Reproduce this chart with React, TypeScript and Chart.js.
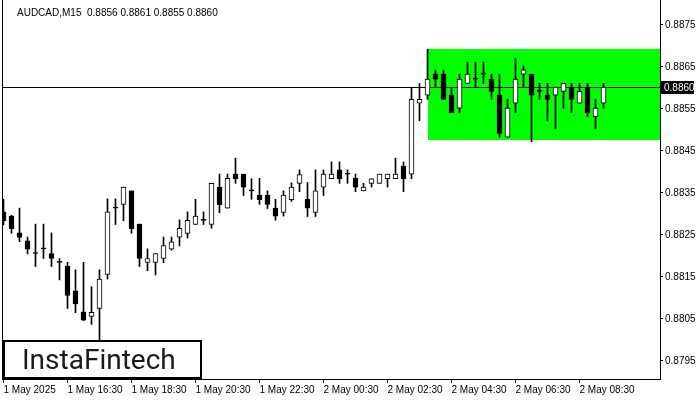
import React, { useEffect, useRef } from "react";
import { Chart, registerables } from "chart.js";

Chart.register(...registerables);

const symbolTitle = "AUDCAD,M15  0.8856 0.8861 0.8855 0.8860";

const timeLabels = [
  "1 May 2025",
  "1 May 16:30",
  "1 May 18:30",
  "1 May 20:30",
  "1 May 22:30",
  "2 May 00:30",
  "2 May 02:30",
  "2 May 04:30",
  "2 May 06:30",
  "2 May 08:30",
];
const timeLabelIndex = [0, 8, 16, 24, 32, 40, 48, 56, 64, 72];

const priceTicks = [0.8795, 0.8805, 0.8815, 0.8825, 0.8835, 0.8845, 0.8855, 0.8865, 0.8875];

const opens = [
  0.88305, 0.88295, 0.88255, 0.88236, 0.88206, 0.88217, 0.88206, 0.88185, 0.88176, 0.88117,
  0.88067, 0.88056, 0.88075, 0.88156, 0.88314, 0.88323, 0.88355, 0.88276, 0.88185, 0.88185,
  0.88194, 0.88216, 0.88245, 0.88254, 0.88275, 0.88285, 0.88275, 0.88364, 0.88314, 0.88395,
  0.88395, 0.88355, 0.88345, 0.88345, 0.88314, 0.88304, 0.88334, 0.88373, 0.88335, 0.88304,
  0.88364, 0.88384, 0.88405, 0.88395, 0.88385, 0.88355, 0.88373, 0.88373, 0.88384, 0.88384,
  0.88414, 0.88395, 0.88564, 0.88583, 0.88633, 0.88633, 0.88583, 0.88552, 0.88611, 0.88621,
  0.88633, 0.88621, 0.88583, 0.88483, 0.88564, 0.88633, 0.88633, 0.88592, 0.88583, 0.88583,
  0.88592, 0.88602, 0.88564, 0.88602, 0.88532, 0.88564,
];
const highs = [
  0.88335, 0.88297, 0.88314, 0.88245, 0.88276, 0.88276, 0.88255, 0.88194, 0.88185, 0.88167,
  0.88185, 0.88127, 0.88167, 0.88336, 0.88336, 0.88364, 0.88355, 0.88276, 0.88217, 0.88206,
  0.88245, 0.88245, 0.88286, 0.88305, 0.88335, 0.88305, 0.88373, 0.88395, 0.88395, 0.88433,
  0.88395, 0.88384, 0.88385, 0.88355, 0.88335, 0.88355, 0.88374, 0.88405, 0.88375, 0.88405,
  0.88405, 0.88424, 0.88424, 0.88405, 0.88395, 0.88373, 0.88384, 0.88395, 0.88395, 0.88433,
  0.88424, 0.88602, 0.88611, 0.88692, 0.88643, 0.88643, 0.88602, 0.88633, 0.88662, 0.88662,
  0.88662, 0.88633, 0.88633, 0.88573, 0.88671, 0.88652, 0.88633, 0.88611, 0.88611, 0.88602,
  0.88611, 0.88611, 0.88611, 0.88611, 0.88573, 0.88611,
];
const lows = [
  0.88274, 0.88254, 0.88234, 0.88205, 0.88175, 0.88194, 0.88175, 0.88143, 0.88075, 0.88065,
  0.88046, 0.88037, 0.88000, 0.88145, 0.88275, 0.88284, 0.88254, 0.88175, 0.88165, 0.88155,
  0.88184, 0.88214, 0.88224, 0.88243, 0.88275, 0.88275, 0.88266, 0.88303, 0.88314, 0.88373,
  0.88344, 0.88335, 0.88323, 0.88313, 0.88285, 0.88295, 0.8833, 0.88353, 0.88294, 0.88294,
  0.88344, 0.88384, 0.88373, 0.88373, 0.88353, 0.88355, 0.88364, 0.88373, 0.88364, 0.88384,
  0.88353, 0.88384, 0.88522, 0.88573, 0.88602, 0.88573, 0.88541, 0.88541, 0.88611, 0.88602,
  0.88611, 0.88573, 0.88483, 0.88483, 0.88541, 0.88602, 0.88472, 0.88573, 0.88522, 0.88503,
  0.88552, 0.88541, 0.88564, 0.88532, 0.88503, 0.88552,
];
const closes = [
  0.88284, 0.88265, 0.88244, 0.88216, 0.88206, 0.88217, 0.88194, 0.88185, 0.88106, 0.88086,
  0.88047, 0.88066, 0.88145, 0.88305, 0.88314, 0.88364, 0.88265, 0.88194, 0.88194, 0.88206,
  0.88225, 0.88234, 0.88266, 0.88285, 0.88295, 0.88285, 0.88373, 0.88322, 0.88385, 0.88384,
  0.88364, 0.88355, 0.88334, 0.88323, 0.88295, 0.88345, 0.88364, 0.88394, 0.88314, 0.88355,
  0.88395, 0.88395, 0.88384, 0.88395, 0.88364, 0.88364, 0.88384, 0.88395, 0.88395, 0.88395,
  0.88384, 0.88573, 0.88573, 0.88621, 0.88621, 0.88573, 0.88541, 0.88621, 0.88633, 0.88621,
  0.88633, 0.88592, 0.88492, 0.88552, 0.88621, 0.88643, 0.88583, 0.88592, 0.88573, 0.88602,
  0.88611, 0.88573, 0.88592, 0.88541, 0.88552, 0.88602,
];

const currentPrice = 0.886;
const currentPriceLabel = "0.8860";
const patternBounds = [0.88693, 0.88475];
const patternStartIndex = 53;
const logoText = "InstaFintech";

const X_MIN = -0.1875;
const X_MAX = 82.0625;
const Y_MAX = 0.8880952;
const Y_MIN = 0.8790714;

const FONT = '"Liberation Sans", Arial, sans-serif';

const overlayPlugin = {
  id: "mtOverlay",
  beforeDatasetsDraw(chart: any) {
    const { ctx, chartArea: a, scales } = chart;
    const x = scales.x;
    const y = scales.y;
    ctx.save();
    ctx.beginPath();
    ctx.rect(a.left, a.top, a.right - a.left, a.bottom - a.top);
    ctx.clip();
    const x0 = Math.round(x.getPixelForValue(patternStartIndex));
    const yt = Math.round(y.getPixelForValue(patternBounds[0]));
    const yb = Math.round(y.getPixelForValue(patternBounds[1]));
    ctx.fillStyle = "#00ff00";
    ctx.fillRect(x0, yt, a.right - x0, yb - yt);
    const py = Math.floor(y.getPixelForValue(currentPrice)) + 0.5;
    ctx.strokeStyle = "#000";
    ctx.lineWidth = 1;
    ctx.beginPath();
    ctx.moveTo(a.left, py);
    ctx.lineTo(a.right, py);
    ctx.stroke();
    ctx.restore();
  },
  afterDraw(chart: any) {
    const { ctx, chartArea: a, scales } = chart;
    const y = scales.y;
    ctx.save();
    ctx.strokeStyle = "#000";
    ctx.lineWidth = 1;
    ctx.beginPath();
    ctx.moveTo(a.left + 0.5, a.top);
    ctx.lineTo(a.left + 0.5, a.bottom);
    ctx.stroke();
    ctx.fillStyle = "#000";
    ctx.font = `10px ${FONT}`;
    ctx.textAlign = "left";
    ctx.textBaseline = "alphabetic";
    ctx.fillText(symbolTitle, 17, 16);
    const py = Math.floor(y.getPixelForValue(currentPrice));
    ctx.fillStyle = "#000";
    ctx.fillRect(a.right + 1, py - 6, 33, 13);
    ctx.fillStyle = "#fff";
    ctx.textBaseline = "middle";
    ctx.fillText(currentPriceLabel, a.right + 4, py + 1);
    ctx.fillStyle = "#fff";
    ctx.fillRect(4, 341, 197, 37);
    ctx.strokeStyle = "#000";
    ctx.lineWidth = 2;
    ctx.strokeRect(4, 341, 197, 37);
    ctx.fillStyle = "#1a1a1a";
    ctx.font = `400 28px Roboto, "Noto Sans", sans-serif`;
    ctx.textBaseline = "alphabetic";
    ctx.fillText(logoText, 22, 369, 160);
    ctx.restore();
  },
};

export default function App() {
  const canvasRef = useRef<HTMLCanvasElement | null>(null);

  useEffect(() => {
    document.body.style.margin = "0";
    const canvas = canvasRef.current;
    if (!canvas) return;

    const wickData = highs.map((h, i) => ({ x: i, y: [lows[i], h] }));
    const bodyData = opens.map((o, i) => ({
      x: i,
      y: [Math.min(o, closes[i]), Math.max(o, closes[i])],
    }));
    const bodyColors = opens.map((o, i) => (closes[i] > o ? "#ffffff" : "#000000"));

    const chart = new Chart(canvas, {
      type: "bar",
      data: {
        datasets: [
          {
            label: "body",
            data: bodyData as any,
            backgroundColor: bodyColors,
            borderColor: "#000",
            borderWidth: 1,
            borderSkipped: false,
            barThickness: 5,
            grouped: false,
            minBarLength: 1,
            order: 0,
          } as any,
          {
            label: "wick",
            data: wickData as any,
            backgroundColor: "#000",
            borderWidth: 0,
            barThickness: 1,
            grouped: false,
            order: 1,
          } as any,
        ],
      },
      options: {
        responsive: false,
        animation: false,
        events: [],
        layout: { padding: { left: 2, top: 0, right: 0, bottom: 0 } },
        plugins: {
          legend: { display: false },
          tooltip: { enabled: false },
          title: { display: false },
        },
        scales: {
          x: {
            type: "linear",
            min: X_MIN,
            max: X_MAX,
            offset: false,
            grid: {
              display: true,
              drawOnChartArea: false,
              drawTicks: true,
              tickLength: 4,
              color: "#000",
              offset: false,
            },
            border: { display: true, color: "#000" },
            ticks: {
              autoSkip: false,
              maxRotation: 0,
              minRotation: 0,
              align: "start",
              padding: 1,
              color: "#000",
              font: { family: FONT, size: 10 },
              callback: (_v: any, index: number) => timeLabels[index] ?? "",
            },
            afterBuildTicks: (s: any) => {
              s.ticks = timeLabelIndex.map((v) => ({ value: v }));
            },
            afterFit: (s: any) => {
              s.height = 21;
              s.paddingLeft = 0;
              s.paddingRight = 0;
            },
          } as any,
          y: {
            type: "linear",
            position: "right",
            min: Y_MIN,
            max: Y_MAX,
            grid: {
              display: true,
              drawOnChartArea: false,
              drawTicks: true,
              tickLength: 3,
              color: "#000",
            },
            border: { display: true, color: "#000" },
            ticks: {
              padding: 2,
              color: "#000",
              crossAlign: "near",
              font: { family: FONT, size: 10 },
              callback: (v: any) => Number(v).toFixed(4),
            },
            afterBuildTicks: (s: any) => {
              s.ticks = priceTicks.map((v) => ({ value: v }));
            },
            afterFit: (s: any) => {
              s.width = 40;
              s.paddingTop = 0;
              s.paddingBottom = 0;
            },
          } as any,
        },
      },
      plugins: [overlayPlugin],
    });

    return () => {
      chart.destroy();
    };
  }, []);

  return (
    <div style={{ width: 700, height: 400, background: "#fff" }}>
      <canvas ref={canvasRef} width={700} height={400} />
    </div>
  );
}
